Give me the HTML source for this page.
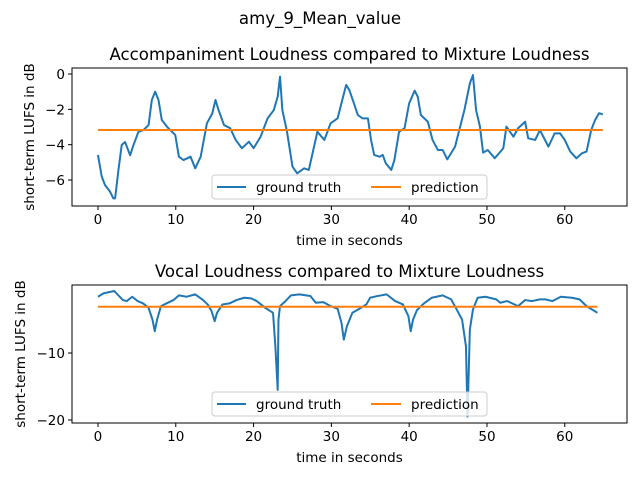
<!DOCTYPE html>
<html><head><meta charset="utf-8">
<style>
html,body{margin:0;padding:0;background:#fff;}
svg{display:block;font-family:"DejaVu Sans","Liberation Sans",sans-serif;}
</style></head>
<body>
<svg id="chart" width="640" height="480" viewBox="0 0 640 480">
<rect width="640" height="480" fill="#fff"/>
<text x="320" y="24" text-anchor="middle" font-size="16.6">amy_9_Mean_value</text>
</svg>
<script>
const accTimes=[0,0.48,0.9,1.55,1.98,2.2,2.63,3.05,3.48,4.13,4.56,5.2,5.85,6.5,6.92,7.35,7.78,8.2,8.86,9.93,10.4,11.0,11.9,12.5,13.2,14.0,14.7,15.1,15.5,16.2,17.0,17.7,18.5,19.4,20.0,20.9,21.8,22.6,23.1,23.4,23.7,24.3,25.0,25.6,26.5,27.1,28.2,29.1,29.9,30.8,31.4,31.9,32.3,32.9,33.4,34.0,34.7,35.1,35.5,36.2,36.6,37.0,37.7,38.1,38.7,39.4,40.0,40.7,41.1,41.5,42.4,43.0,43.7,44.3,44.9,45.9,46.5,47.1,47.8,48.2,48.6,49.1,49.5,50.1,51.0,52.1,52.5,53.4,54.0,54.9,55.3,56.2,56.8,57.9,58.7,59.4,60.0,60.7,61.5,62.2,62.8,63.4,63.9,64.4,64.9];
const accValues=[-4.58,-5.8,-6.28,-6.66,-7.04,-7.04,-5.43,-4.02,-3.85,-4.6,-4.02,-3.27,-3.17,-2.89,-1.47,-1.0,-1.47,-2.6,-2.98,-3.45,-4.68,-4.87,-4.68,-5.34,-4.68,-2.79,-2.22,-1.47,-2.04,-2.89,-3.07,-3.73,-4.2,-3.83,-4.2,-3.55,-2.51,-2.04,-1.28,-0.15,-2.04,-3.27,-5.24,-5.62,-5.34,-5.43,-3.27,-3.73,-2.79,-2.51,-1.47,-0.62,-0.9,-1.66,-2.32,-2.51,-2.51,-3.73,-4.58,-4.68,-4.58,-5.06,-5.43,-4.87,-3.27,-3.07,-1.66,-0.94,-1.28,-2.32,-2.7,-3.73,-4.3,-4.3,-4.83,-4.11,-3.07,-2.04,-0.53,-0.06,-2.04,-2.98,-4.45,-4.3,-4.77,-4.2,-2.98,-3.55,-3.07,-2.7,-3.64,-3.73,-3.17,-4.11,-3.36,-3.36,-3.73,-4.39,-4.77,-4.49,-4.39,-3.17,-2.6,-2.22,-2.28];
const accPrediction=-3.17;
const vocTimes=[0,0.7,2.1,2.5,3.2,3.7,4.4,5.1,5.8,6.5,7.0,7.3,7.6,8.1,8.8,9.7,10.4,11.4,12.5,13.4,14.1,14.6,15.0,15.3,16.0,16.9,17.8,18.8,19.7,20.4,21.5,22.5,22.8,23.1,23.2,23.4,24.1,24.8,25.9,27.3,28.0,28.96,29.9,30.8,31.3,31.6,32.0,32.7,33.6,34.5,34.98,35.9,37.1,38.2,39.2,39.9,40.2,40.5,41.0,41.9,42.9,44.3,45.4,46.1,46.8,47.3,47.5,47.8,48.2,48.8,49.8,51.2,51.7,52.6,54.0,54.9,55.8,56.8,57.5,58.4,59.5,60.9,61.9,62.8,64.2];
const vocValues=[-1.6,-1.1,-0.75,-1.25,-2.1,-2.25,-1.6,-2.25,-2.6,-3.25,-5.0,-6.75,-5.0,-3.0,-2.6,-2.1,-1.4,-1.6,-1.25,-2.0,-2.75,-3.75,-5.25,-4.0,-2.75,-2.6,-2.1,-1.75,-1.85,-2.25,-3.25,-4.0,-9.0,-15.5,-5.0,-3.0,-2.25,-1.4,-1.25,-1.5,-2.5,-2.4,-3.0,-3.4,-5.5,-8.0,-6.0,-4.0,-3.4,-2.75,-1.75,-1.5,-1.25,-2.25,-2.75,-4.5,-6.75,-5.0,-3.6,-2.6,-1.75,-1.4,-2.0,-3.5,-5.0,-9.0,-19.5,-6.5,-3.5,-1.75,-1.6,-2.0,-2.5,-2.25,-3.0,-2.1,-2.25,-2.0,-2.0,-2.25,-1.6,-1.75,-2.0,-3.0,-4.0];
const vocPrediction=-3.09;
const xTicks=[0,10,20,30,40,50,60];
const accYTicks=[-6,-4,-2,0];
const vocYTicks=[-10,-20];

const NS="http://www.w3.org/2000/svg";
const svg=document.getElementById('chart');
function mk(tag,attrs,parent){const e=document.createElementNS(NS,tag);for(const k in attrs)e.setAttribute(k,attrs[k]);(parent||svg).appendChild(e);return e;}

function panel(cfg){
  const {L,R,T,B,xmin,xmax,ymin,ymax,times,vals,pred,yTicks,title,prefix,ylabelX}=cfg;
  const sx=v=>L+(v-xmin)/(xmax-xmin)*(R-L);
  const sy=v=>B-(v-ymin)/(ymax-ymin)*(B-T);
  const g=mk('g',{});
  
  
  const t=mk('text',{x:(L+R)/2,y:T-8,'text-anchor':'middle','font-size':'16.6'},g);t.textContent=title;
  
  
  const pts=times.map((x,i)=>sx(x).toFixed(2)+','+sy(vals[i]).toFixed(2)).join(' ');
  const gt=mk('polyline',{points:pts,fill:'none',stroke:'#1f77b4','stroke-width':'2','stroke-linejoin':'round'},g);
  
  
  const pl=mk('line',{x1:sx(times[0]),x2:sx(times[times.length-1]),y1:sy(pred),y2:sy(pred),stroke:'#ff7f0e','stroke-width':'2'},g);
  
  
  const fr=mk('rect',{x:L,y:T,width:R-L,height:B-T,fill:'none',stroke:'#000','stroke-width':'1'},g);
  
  
  xTicks.forEach(v=>{
    const x=sx(v);
    mk('line',{x1:x,x2:x,y1:B,y2:B+4,stroke:'#000'},g);
    const tx=mk('text',{x:x,y:B+18,'text-anchor':'middle','font-size':'13.5'},g);tx.textContent=v;
    
    
  });
  yTicks.forEach(v=>{
    const y=sy(v);
    mk('line',{x1:L-4,x2:L,y1:y,y2:y,stroke:'#000'},g);
    const ty=mk('text',{x:L-7,y:y+5,'text-anchor':'end','font-size':'13.5'},g);ty.textContent=(v<0?'\u2212'+(-v):v);
    
    
  });
  const xl=mk('text',{x:(L+R)/2,y:B+39,'text-anchor':'middle','font-size':'13.5'},g);xl.textContent='time in seconds';
  
  
  const cy=(T+B)/2;
  const yl=mk('text',{x:ylabelX,y:cy,'text-anchor':'middle','font-size':'13.5',transform:'rotate(-90 '+ylabelX+' '+cy+')'},g);yl.textContent='short-term LUFS in dB';
  
  
  const lg=mk('g',{},g);
  
  
  const ly=B-31;
  mk('rect',{x:212,y:ly,width:275,height:24,rx:3,fill:'#fff','fill-opacity':'0.8',stroke:'#ccc'},lg);
  mk('line',{x1:217,x2:246,y1:ly+12,y2:ly+12,stroke:'#1f77b4','stroke-width':'2'},lg);
  const l1=mk('text',{x:256,y:ly+17,'font-size':'13.5'},lg);l1.textContent='ground truth';
  
  
  mk('line',{x1:371,x2:401,y1:ly+12,y2:ly+12,stroke:'#ff7f0e','stroke-width':'2'},lg);
  const l2=mk('text',{x:411,y:ly+17,'font-size':'13.5'},lg);l2.textContent='prediction';
  
  
}
panel({L:72,R:627,T:68,B:206,xmin:-3.34,xmax:68.0,ymin:-7.47,ymax:0.34,times:accTimes,vals:accValues,pred:accPrediction,yTicks:accYTicks,title:'Accompaniment Loudness compared to Mixture Loudness',prefix:'accompaniment',ylabelX:34});
panel({L:72,R:627,T:285,B:423,xmin:-3.34,xmax:68.0,ymin:-20.45,ymax:0.15,times:vocTimes,vals:vocValues,pred:vocPrediction,yTicks:vocYTicks,title:'Vocal Loudness compared to Mixture Loudness',prefix:'vocal',ylabelX:25});
</script>
</body></html>
